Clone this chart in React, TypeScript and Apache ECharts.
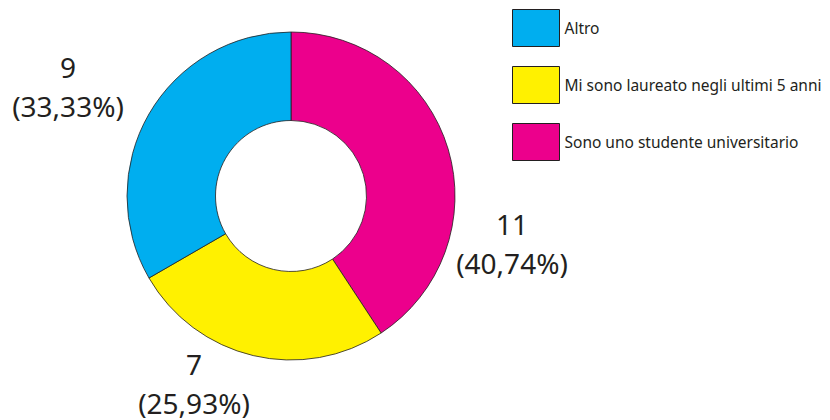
import React, { useEffect, useRef } from "react";
import * as echarts from "echarts";

const categories = ["Sono uno studente universitario", "Mi sono laureato negli ultimi 5 anni", "Altro"];
const values = [11, 7, 9];
const legendOrder = ["Altro", "Mi sono laureato negli ultimi 5 anni", "Sono uno studente universitario"];
const colors = ["#EC008C", "#FFF100", "#00AEEF"];
const labelCenters = [
  [512, 243],
  [194, 383],
  [68, 86],
];

export default function App() {
  const ref = useRef<HTMLDivElement>(null);
  useEffect(() => {
    document.body.style.margin = "0";
    const chart = echarts.init(ref.current!, null, { renderer: "svg" });
    const total = values.reduce((a, b) => a + b, 0);
    chart.setOption({
      animation: false,
      backgroundColor: "#ffffff",
      legend: {
        orient: "vertical",
        left: 512,
        top: 9,
        padding: 0,
        itemWidth: 47,
        itemHeight: 37,
        itemGap: 19,
        icon: "rect",
        data: legendOrder,
        selectedMode: false,
        itemStyle: { borderColor: "#231F20", borderWidth: 1 },
        textStyle: { fontFamily: "Noto Sans", fontSize: 15.5, color: "#231F20" },
      },
      series: [
        {
          type: "pie",
          center: [291, 196],
          radius: [75.5, 164],
          startAngle: 90,
          clockwise: true,
          itemStyle: { borderColor: "#231F20", borderWidth: 0.8 },
          emphasis: { disabled: true },
          labelLine: { show: false },
          label: {
            show: true,
            position: "outside",
            overflow: "none",
            fontFamily: "Noto Sans",
            fontSize: 28,
            lineHeight: 39,
            color: "#231F20",
            formatter: (p: any) =>
              `${p.value}\n(${((p.value / total) * 100).toFixed(2).replace(".", ",")}%)`,
          },
          labelLayout: (p: any) => ({
            x: labelCenters[p.dataIndex][0],
            y: labelCenters[p.dataIndex][1],
            align: "center",
            verticalAlign: "middle",
          }),
          data: categories.map((name, i) => ({
            name,
            value: values[i],
            itemStyle: { color: colors[i] },
          })),
        },
      ],
    });
    return () => chart.dispose();
  }, []);
  return <div ref={ref} style={{ width: 830, height: 420 }} />;
}
